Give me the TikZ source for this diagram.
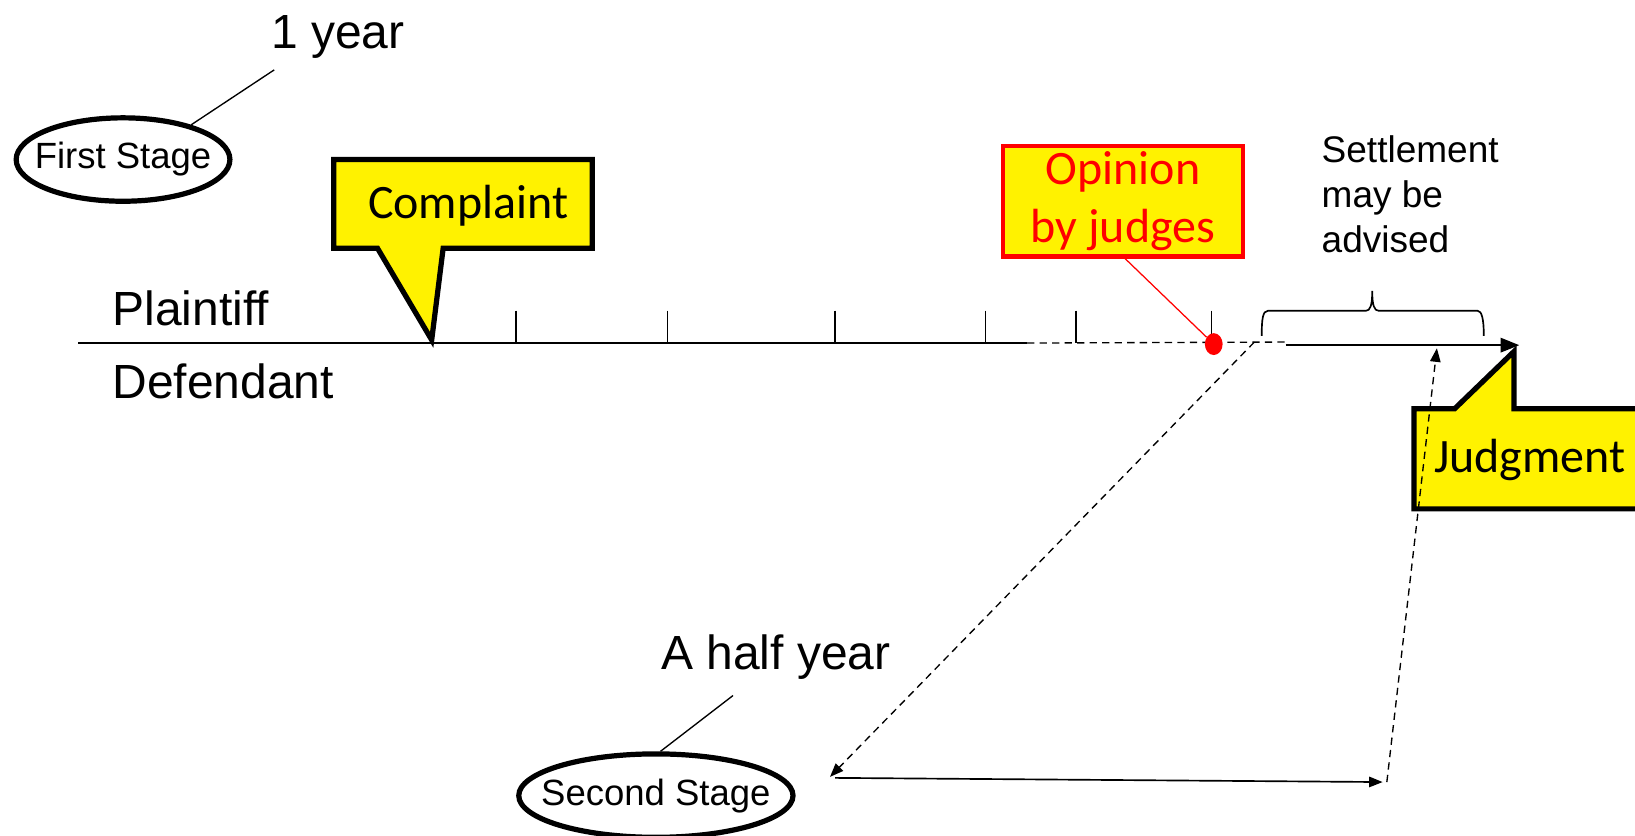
\documentclass[tikz,border=0pt]{standalone}
\usepackage{fontspec}
\setmainfont{Liberation Sans}
\newfontfamily\calib{Carlito}
\usetikzlibrary{arrows.meta,shapes.geometric}

\begin{document}
\begin{tikzpicture}[x=1pt,y=-1pt,line join=miter,
  axis/.style={line width=1.5pt},
  tick/.style={line width=1.5pt},
  dashline/.style={line width=1.3pt,dash pattern=on 7pt off 5pt},
  bigtip/.style={-{Triangle[length=18pt,width=14pt]}},
  smalltip/.style={-{Triangle[length=13pt,width=10pt]}},
  stage/.style={ellipse,draw,line width=5pt,inner sep=0pt,
    font=\fontsize{35}{40}\selectfont},
  callout/.style={draw,line width=5pt,fill=yellow},
  big/.style={font=\fontsize{46}{52}\selectfont},
  mid/.style={font=\fontsize{35.5}{43}\selectfont},
  calibtext/.style={font=\calib\fontsize{46}{56}\selectfont},
]
\clip (0,0) rectangle (1568,801);

% ---------- labels on the left ----------
\node[big] (pl) at (183,296) {Plaintiff};
\node[big] (df) at (214,366) {Defendant};

% ---------- first stage ----------
\node[stage,minimum width=205pt,minimum height=80pt] (s1) at (118,153)
  {\makebox[0pt]{First Stage}};
\node[big] (y1) at (324,35) {1 year};
\coordinate (y1foot) at (263,67);
\draw[line width=1.3pt] (s1.27) -- (y1foot);

% ---------- time line ----------
\coordinate (t0) at (75,329);
\coordinate (t1) at (985,329);
\coordinate (fork) at (1203,328);
\coordinate (t2) at (1235,328);
\coordinate (t3) at (1233,331);
\coordinate (tend) at (1457,331);
\draw[axis] (t0) -- (t1);
\draw[dashline] (t1) -- (t2);
\draw[axis,bigtip] (t3) -- (tend);
\foreach \x in {495,640,801,945,1032,1162}
  \draw[tick] (\x,298) -- (\x,329);

% ---------- complaint callout ----------
\draw[callout] (320,153) -- (568,153) -- (568,238) -- (425,238)
  -- (414,326) -- (362,238) -- (320,238) -- cycle;
\node[calibtext] (cp) at (449,197) {Complaint};

% ---------- opinion by judges ----------
\node[draw=red,line width=4pt,fill=yellow,minimum width=230pt,
      minimum height=106pt,text=red,align=center,inner sep=0pt,
      calibtext] (op) at (1077,193) {Opinion\\by judges};
\node[ellipse,fill=red,minimum width=17pt,minimum height=21pt,
      inner sep=0pt] (dot) at (1164,330) {};
\draw[red,line width=1.2pt] (op.south) ++(2,0) -- (dot);

% ---------- settlement ----------
\node[mid,align=left,anchor=west] (st) at (1264,186)
  {Settlement\\may be\\advised};
\draw[line width=1.6pt] (1210,322) .. controls (1210,306) and (1211,298) .. (1216,298)
  -- (1310,298) .. controls (1314,298) and (1316,293) .. (1316,279)
  .. controls (1316,293) and (1318,298) .. (1322,298)
  -- (1417,298) .. controls (1421,298) and (1423,306) .. (1423,322);

% ---------- judgment callout ----------
\draw[callout] (1356,392) -- (1395,392) -- (1452,337) -- (1452,392)
  -- (1600,392) -- (1600,488) -- (1356,488) -- cycle;
\node[calibtext] (jd) at (1467,441) {Judgment};

% ---------- second stage ----------
\node[stage,minimum width=263pt,minimum height=80pt] (s2) at (629,763)
  {\makebox[0pt]{Second Stage}};
\node[big] (hy) at (744,630) {A half year};
\coordinate (hyfoot) at (703,667);
\draw[line width=1.3pt] (s2.84) -- (hyfoot);

\coordinate (s2in) at (796,745);
\coordinate (s2out) at (801,746);
\coordinate (s2end) at (1326,750);
\coordinate (jb) at (1378,334);
\draw[dashline,smalltip] (fork) -- (s2in);
\draw[line width=1.6pt,smalltip] (s2out) -- (s2end);
\draw[dashline,smalltip] (1330,750) -- (jb);
\end{tikzpicture}
\end{document}
